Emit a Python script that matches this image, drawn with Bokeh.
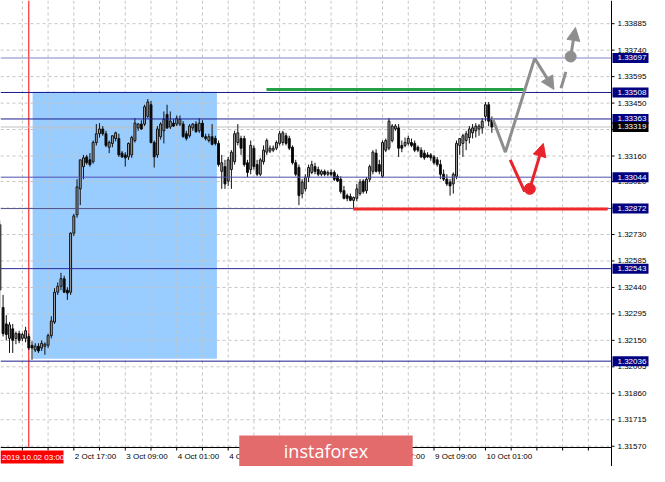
import pandas as pd
from bokeh.plotting import figure
from bokeh.models import Range1d, Arrow, NormalHead, ColumnDataSource
from bokeh.core.properties import value
from bokeh.embed import file_html
from bokeh.resources import INLINE

# ---------------- data ----------------
bar_index = list(range(-9, 145))
opens = [1.32785, 1.32330, 1.32240, 1.32161, 1.32213, 1.32161, 1.32187, 1.32161, 1.32161,
         1.32171, 1.32123, 1.32097, 1.32118, 1.32108, 1.32118, 1.32123, 1.32176, 1.32250, 1.32414,
         1.32446, 1.32488, 1.32425, 1.32414, 1.32737, 1.32838, 1.32980, 1.33102, 1.33155, 1.33139,
         1.33129, 1.33234, 1.33282, 1.33308, 1.33282, 1.33208, 1.33229, 1.33256, 1.33256, 1.33176,
         1.33166, 1.33155, 1.33166, 1.33245, 1.33314, 1.33335, 1.33335, 1.33377, 1.33441, 1.33234,
         1.33166, 1.33266, 1.33298, 1.33388, 1.33319, 1.33340, 1.33335, 1.33335, 1.33335, 1.33282,
         1.33271, 1.33314, 1.33335, 1.33298, 1.33340, 1.33266, 1.33245, 1.33266, 1.33256, 1.33229,
         1.33076, 1.33102, 1.33023, 1.33086, 1.33129, 1.33234, 1.33256, 1.33256, 1.33123, 1.33086,
         1.33203, 1.33113, 1.33060, 1.33129, 1.33181, 1.33187, 1.33192, 1.33203, 1.33229, 1.33234,
         1.33271, 1.33256, 1.33208, 1.33123, 1.33097, 1.32954, 1.32980, 1.33044, 1.33070, 1.33102,
         1.33086, 1.33060, 1.33076, 1.33060, 1.33070, 1.33070, 1.33049, 1.33033, 1.32970, 1.32943,
         1.32938, 1.32917, 1.32928, 1.32954, 1.33023, 1.32970, 1.33033, 1.33076, 1.33176, 1.33113,
         1.33049, 1.33192, 1.33203, 1.33245, 1.33308, 1.33314, 1.33218, 1.33218, 1.33229, 1.33234,
         1.33229, 1.33208, 1.33192, 1.33176, 1.33166, 1.33166, 1.33155, 1.33139, 1.33113, 1.33060,
         1.33033, 1.33017, 1.33007, 1.33049, 1.33218, 1.33229, 1.33245, 1.33261, 1.33287, 1.33298,
         1.33308, 1.33314, 1.33377, 1.33441, 1.33361]
highs = [1.32806, 1.32399, 1.32288, 1.32250, 1.32240, 1.32198, 1.32203, 1.32192, 1.32224,
         1.32187, 1.32145, 1.32134, 1.32134, 1.32150, 1.32139, 1.32187, 1.32282, 1.32436, 1.32467,
         1.32520, 1.32504, 1.32441, 1.32742, 1.32843, 1.33033, 1.33139, 1.33166, 1.33166, 1.33176,
         1.33245, 1.33335, 1.33340, 1.33324, 1.33298, 1.33245, 1.33271, 1.33293, 1.33282, 1.33187,
         1.33181, 1.33234, 1.33271, 1.33367, 1.33340, 1.33356, 1.33441, 1.33472, 1.33462, 1.33245,
         1.33324, 1.33345, 1.33404, 1.33441, 1.33404, 1.33361, 1.33382, 1.33382, 1.33351, 1.33298,
         1.33335, 1.33340, 1.33351, 1.33367, 1.33356, 1.33282, 1.33282, 1.33335, 1.33271, 1.33245,
         1.33166, 1.33139, 1.33155, 1.33192, 1.33298, 1.33335, 1.33271, 1.33271, 1.33139, 1.33245,
         1.33218, 1.33139, 1.33150, 1.33218, 1.33256, 1.33218, 1.33218, 1.33245, 1.33298, 1.33298,
         1.33287, 1.33271, 1.33218, 1.33139, 1.33113, 1.33033, 1.33060, 1.33113, 1.33134, 1.33123,
         1.33102, 1.33086, 1.33086, 1.33081, 1.33086, 1.33081, 1.33060, 1.33049, 1.32996, 1.32954,
         1.32954, 1.32938, 1.33007, 1.33033, 1.33033, 1.33044, 1.33113, 1.33192, 1.33197, 1.33139,
         1.33245, 1.33256, 1.33367, 1.33335, 1.33335, 1.33335, 1.33245, 1.33261, 1.33271, 1.33256,
         1.33245, 1.33218, 1.33208, 1.33192, 1.33181, 1.33176, 1.33166, 1.33155, 1.33139, 1.33086,
         1.33060, 1.33033, 1.33070, 1.33245, 1.33256, 1.33282, 1.33298, 1.33324, 1.33335, 1.33340,
         1.33335, 1.33367, 1.33456, 1.33456, 1.33377]
lows = [1.32330, 1.32171, 1.32150, 1.32081, 1.32081, 1.32129, 1.32134, 1.32145, 1.32139,
        1.32097, 1.32044, 1.32086, 1.32081, 1.32092, 1.32071, 1.32108, 1.32161, 1.32240, 1.32399,
        1.32425, 1.32409, 1.32372, 1.32399, 1.32721, 1.32822, 1.32891, 1.33033, 1.33113, 1.33102,
        1.33118, 1.33218, 1.33261, 1.33271, 1.33208, 1.33176, 1.33208, 1.33240, 1.33155, 1.33150,
        1.33102, 1.33139, 1.33150, 1.33234, 1.33298, 1.33303, 1.33324, 1.33367, 1.33229, 1.33097,
        1.33150, 1.33250, 1.33229, 1.33308, 1.33308, 1.33319, 1.33324, 1.33324, 1.33261, 1.33245,
        1.33261, 1.33298, 1.33287, 1.33287, 1.33261, 1.33245, 1.33234, 1.33218, 1.33218, 1.33102,
        1.32980, 1.32980, 1.32996, 1.32980, 1.33113, 1.33218, 1.33166, 1.33102, 1.33044, 1.33060,
        1.33086, 1.33049, 1.33049, 1.33113, 1.33166, 1.33176, 1.33181, 1.33192, 1.33218, 1.33218,
        1.33218, 1.33192, 1.33113, 1.33049, 1.32891, 1.32928, 1.32965, 1.33017, 1.33060, 1.33060,
        1.33049, 1.33049, 1.33049, 1.33049, 1.33049, 1.33023, 1.33017, 1.32954, 1.32922, 1.32912,
        1.32912, 1.32875, 1.32912, 1.32943, 1.32954, 1.32954, 1.33017, 1.33060, 1.33070, 1.33060,
        1.33039, 1.33181, 1.33192, 1.33234, 1.33298, 1.33155, 1.33181, 1.33208, 1.33218, 1.33208,
        1.33181, 1.33181, 1.33150, 1.33139, 1.33150, 1.33134, 1.33113, 1.33102, 1.33033, 1.33023,
        1.32996, 1.32943, 1.32954, 1.33033, 1.33166, 1.33155, 1.33192, 1.33229, 1.33256, 1.33261,
        1.33271, 1.33282, 1.33351, 1.33324, 1.33287]
closes = [1.32425, 1.32187, 1.32182, 1.32235, 1.32150, 1.32187, 1.32150, 1.32182, 1.32203,
          1.32108, 1.32108, 1.32118, 1.32092, 1.32134, 1.32129, 1.32176, 1.32256, 1.32414, 1.32446,
          1.32488, 1.32414, 1.32409, 1.32737, 1.32832, 1.32991, 1.33139, 1.33150, 1.33123, 1.33113,
          1.33234, 1.33282, 1.33308, 1.33282, 1.33218, 1.33234, 1.33271, 1.33287, 1.33166, 1.33155,
          1.33150, 1.33229, 1.33261, 1.33340, 1.33335, 1.33308, 1.33430, 1.33456, 1.33234, 1.33155,
          1.33308, 1.33335, 1.33361, 1.33314, 1.33351, 1.33324, 1.33367, 1.33361, 1.33266, 1.33256,
          1.33324, 1.33335, 1.33293, 1.33340, 1.33266, 1.33256, 1.33266, 1.33224, 1.33229, 1.33113,
          1.33123, 1.33007, 1.33139, 1.33181, 1.33282, 1.33287, 1.33203, 1.33113, 1.33070, 1.33218,
          1.33102, 1.33060, 1.33139, 1.33192, 1.33245, 1.33203, 1.33203, 1.33234, 1.33282, 1.33287,
          1.33229, 1.33203, 1.33123, 1.33060, 1.32943, 1.33017, 1.33044, 1.33097, 1.33113, 1.33076,
          1.33060, 1.33076, 1.33060, 1.33070, 1.33060, 1.33033, 1.33023, 1.32965, 1.32928, 1.32928,
          1.32917, 1.32933, 1.32980, 1.33017, 1.32965, 1.33033, 1.33102, 1.33181, 1.33076, 1.33076,
          1.33234, 1.33245, 1.33351, 1.33324, 1.33324, 1.33203, 1.33203, 1.33234, 1.33256, 1.33218,
          1.33192, 1.33192, 1.33155, 1.33150, 1.33155, 1.33150, 1.33123, 1.33113, 1.33060, 1.33033,
          1.33007, 1.32996, 1.33060, 1.33229, 1.33256, 1.33271, 1.33282, 1.33308, 1.33314, 1.33324,
          1.33324, 1.33351, 1.33441, 1.33351, 1.33319]

# price levels (right-hand boxes)
level_values = [1.33697, 1.33508, 1.33363, 1.33044, 1.32872, 1.32543, 1.32036]
level_labels = ["1.33697", "1.33508", "1.33363", "1.33044", "1.32872", "1.32543", "1.32036"]
current_price = 1.33319
current_label = "1.33319"

# price axis ticks
price_ticks = [1.31570, 1.31715, 1.31860, 1.32005, 1.32150, 1.32295, 1.32440, 1.32585,
               1.32730, 1.32875, 1.33020, 1.33160, 1.33305, 1.33450, 1.33595, 1.33740, 1.33885]
price_tick_labels = ["1.31570", "1.31715", "1.31860", "1.32005", "1.32150", "1.32295", "1.32440",
                     "1.32585", "1.32730", "1.32875", "1.33020", "1.33160", "1.33305", "1.33450",
                     "1.33595", "1.33740", "1.33885"]

# time axis (bar index) ticks
time_tick_bars = [14, 30, 46, 62, 78, 94, 110, 126, 142]
time_tick_labels = ["2 Oct 17:00", "3 Oct 09:00", "4 Oct 01:00", "4 Oct 17:00", "7 Oct 09:00",
                    "8 Oct 01:00", "8 Oct 17:00", "9 Oct 09:00", "10 Oct 01:00"]
grid_bars = list(range(-2, 181, 8))
marker_bar = 0
marker_label = "2019.10.02 03:00"
watermark_text = "instaforex"

# highlighted zone
zone_bars = [1.2, 58.5]
zone_prices = [1.32049, 1.33512]

# support / resistance segments
green_bars = [73.9, 153.9]
green_price = 1.33525
red_bars = [100.9, 180.0]
red_price = 1.32870

# forecast paths
grey_path_bars = [144.2, 148.2, 157.3]
grey_path_prices = [1.33367, 1.33181, 1.33695]
grey_arrow1 = (157.3, 1.33695, 163.3, 1.33525)
grey_dash_bars = [165.5, 167.0]
grey_dash_prices = [1.33531, 1.33621]
grey_dot = (168.5, 1.33705)
grey_arrow2 = (168.5, 1.33705, 170.0, 1.33864)
red_path_bars = [149.7, 154.2]
red_path_prices = [1.33139, 1.32965]
red_dot = (155.8, 1.32980)
red_arrow = (155.8, 1.32980, 160.0, 1.33229)

# ---------------- geometry ----------------
W, H = 649, 466
W_CHART, H_CHART = 611, 447
X_LO, X_AX = -8.8, 181.2          # chart area in bar units
Y_LO, Y_HI = 1.31563, 1.34012     # chart area in price units
bpx = (X_AX - X_LO) / W_CHART      # bars per pixel
ppx = (Y_HI - Y_LO) / H_CHART      # price per pixel
X_HI = X_LO + W * bpx
Y_BOT = Y_HI - H * ppx

p = figure(width=W, height=H, output_backend="svg", toolbar_location=None,
           x_range=Range1d(X_LO, X_HI), y_range=Range1d(Y_BOT, Y_HI),
           x_axis_location=None, y_axis_location=None, min_border=0,
           outline_line_color=None, background_fill_color="white",
           border_fill_color="white")
p.grid.visible = False

AX_FONT = value("Liberation Sans")

# highlighted zone
p.quad(left=[zone_bars[0]], right=[zone_bars[1]], bottom=[zone_prices[0]], top=[zone_prices[1]],
       fill_color="#99ccff", line_color=None)

# dashed grid
gb = [b for b in grid_bars if X_LO < b < X_AX]
p.segment(x0=gb, y0=[Y_LO] * len(gb), x1=gb, y1=[Y_HI] * len(gb),
          line_color="#c4c4c4", line_width=1, line_dash="3 3")
p.segment(x0=[X_LO] * len(price_ticks), y0=price_ticks, x1=[X_AX] * len(price_ticks),
          y1=price_ticks, line_color="#c4c4c4", line_width=1, line_dash="3 3")

# vertical marker line
p.segment(x0=[marker_bar], y0=[Y_LO], x1=[marker_bar], y1=[Y_HI], line_color="#ff0000", line_width=1)

# current price line
p.segment(x0=[X_LO], y0=[current_price], x1=[X_AX], y1=[current_price],
          line_color="#c0c0c0", line_width=1)

# candles
df = pd.DataFrame(dict(i=bar_index, o=opens, h=highs, l=lows, c=closes))
df["top"] = df[["o", "c"]].max(axis=1)
df["bot"] = df[["o", "c"]].min(axis=1)
df["fill"] = ["#a8a8a8" if c >= o else "#000000" for o, c in zip(df.o, df.c)]
src = ColumnDataSource(df)
p.segment(x0="i", y0="l", x1="i", y1="h", source=src, line_color="#111111", line_width=1)
p.vbar(x="i", width=0.6, top="top", bottom="bot", source=src,
       fill_color="fill", line_color="#111111", line_width=1)

# level lines
level_colors = ["#8282c8", "#1c1c8e", "#1c1c8e", "#5050b0", "#50508a", "#2a2a98", "#1c1c8e"]
p.segment(x0=[X_LO] * len(level_values), y0=level_values, x1=[X_AX] * len(level_values),
          y1=level_values, line_color=level_colors, line_width=1)

# green / red horizontal segments
p.line(green_bars, [green_price, green_price], line_color="#23a048", line_width=3)
p.line(red_bars, [red_price, red_price], line_color="#ee2a2a", line_width=3)

# forecast paths
GREY = "#8e8e8e"
REDF = "#e8232b"
p.line(grey_path_bars, grey_path_prices, line_color=GREY, line_width=3)
p.add_layout(Arrow(x_start=grey_arrow1[0], y_start=grey_arrow1[1], x_end=grey_arrow1[2],
                   y_end=grey_arrow1[3], line_color=GREY, line_width=3,
                   end=NormalHead(size=13, fill_color=GREY, line_color=GREY)))
p.line(grey_dash_bars, grey_dash_prices, line_color=GREY, line_width=3)
p.scatter([grey_dot[0]], [grey_dot[1]], size=11, fill_color=GREY, line_color=GREY)
p.add_layout(Arrow(x_start=grey_arrow2[0], y_start=grey_arrow2[1], x_end=grey_arrow2[2],
                   y_end=grey_arrow2[3], line_color=GREY, line_width=3,
                   end=NormalHead(size=13, fill_color=GREY, line_color=GREY)))
p.line(red_path_bars, red_path_prices, line_color=REDF, line_width=3)
p.scatter([red_dot[0]], [red_dot[1]], size=11, fill_color=REDF, line_color=REDF)
p.add_layout(Arrow(x_start=red_arrow[0], y_start=red_arrow[1], x_end=red_arrow[2],
                   y_end=red_arrow[3], line_color=REDF, line_width=3,
                   end=NormalHead(size=13, fill_color=REDF, line_color=REDF)))

# ---------------- axes (drawn on the same scales) ----------------
p.segment(x0=[X_AX, X_LO], y0=[Y_BOT, Y_LO], x1=[X_AX, X_AX], y1=[Y_HI, Y_LO],
          line_color="black", line_width=1)
p.segment(x0=[X_AX] * len(price_ticks), y0=price_ticks,
          x1=[X_AX + 3 * bpx] * len(price_ticks), y1=price_ticks, line_color="black")
TX = X_AX + 6 * bpx
p.text(x=[TX] * len(price_ticks), y=price_ticks, text=price_tick_labels, text_font=AX_FONT,
       text_font_size="8px", text_color="black", text_align="left", text_baseline="middle")

all_t = [b for b in sorted(set(time_tick_bars + gb)) if X_LO < b < X_AX]
p.segment(x0=all_t, y0=[Y_LO] * len(all_t), x1=all_t, y1=[Y_LO - 3 * ppx] * len(all_t),
          line_color="black")
p.text(x=[b + 1 * bpx for b in time_tick_bars], y=[Y_LO - 9 * ppx] * len(time_tick_bars),
       text=time_tick_labels, text_font=AX_FONT, text_font_size="8px", text_color="black",
       text_align="left", text_baseline="middle")

# level boxes on price axis
BOX_X = X_AX + 19 * bpx
p.rect(x=[BOX_X] * len(level_values), y=level_values, width=36, height=10,
       width_units="screen", height_units="screen", fill_color="#000080", line_color=None)
p.rect(x=[BOX_X], y=[current_price], width=36, height=10, width_units="screen",
       height_units="screen", fill_color="#000000", line_color=None)
p.text(x=[TX] * (len(level_values) + 1), y=level_values + [current_price],
       text=level_labels + [current_label], text_font=AX_FONT, text_font_size="8px",
       text_color="white", text_align="left", text_baseline="middle")

# red date marker on the time axis (clamped to the left edge, as in the terminal)
p.rect(x=[X_LO + 31.5 * bpx], y=[Y_LO - 9.5 * ppx], width=63, height=13, width_units="screen",
       height_units="screen", fill_color="#ff0000", line_color=None)
p.text(x=[X_LO + 1.5 * bpx], y=[Y_LO - 9.5 * ppx], text=[marker_label], text_font=AX_FONT,
       text_font_size="8px", text_color="white", text_align="left", text_baseline="middle")

# watermark
WM_L = X_LO + 245 * W_CHART / 627 * bpx
WM_R = X_LO + 423 * W_CHART / 627 * bpx
p.quad(left=[WM_L], right=[WM_R], bottom=[Y_BOT], top=[Y_LO + 12 * ppx],
       fill_color="#e36b6b", line_color=None)
p.text(x=[(WM_L + WM_R) / 2], y=[Y_LO - 3 * ppx], text=[watermark_text],
       text_font=value("Open Sans"), text_font_size="18px", text_color="white",
       text_align="center", text_baseline="middle")

open("out.html", "w").write(file_html(p, INLINE))
